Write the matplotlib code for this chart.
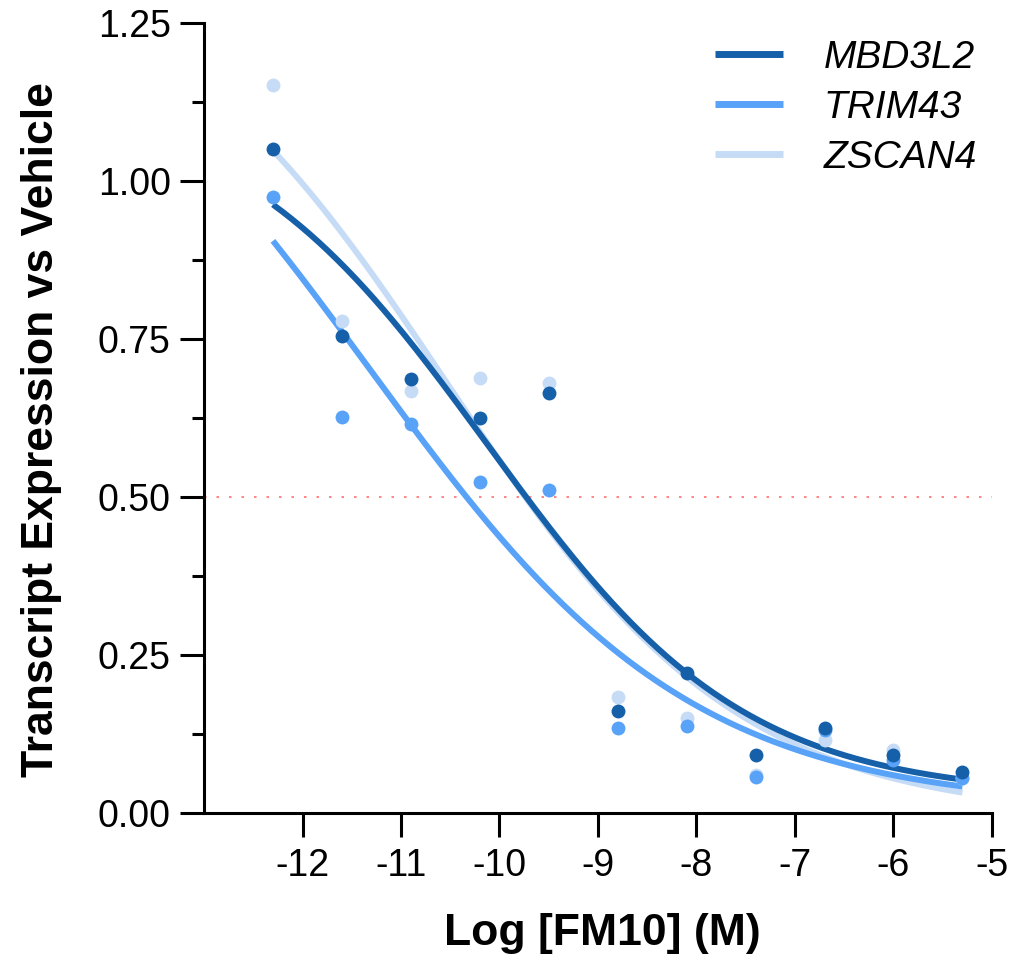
import numpy as np
import matplotlib
matplotlib.use("Agg")
import matplotlib.pyplot as plt
from matplotlib.ticker import MultipleLocator

plt.rcParams['font.family'] = ['Liberation Sans', 'DejaVu Sans']

# ---- data ----
log_conc = [-12.3, -11.6, -10.9, -10.2, -9.5, -8.8, -8.1, -7.4, -6.7, -6.0, -5.3]
mbd3l2 = [1.051, 0.755, 0.687, 0.625, 0.665, 0.161, 0.221, 0.091, 0.134, 0.092, 0.065]
trim43 = [0.975, 0.626, 0.616, 0.524, 0.511, 0.135, 0.138, 0.057, 0.132, 0.084, 0.055]
zscan4 = [1.152, 0.779, 0.668, 0.689, 0.680, 0.184, 0.151, 0.060, 0.116, 0.100, 0.055]
series_names = ['MBD3L2', 'TRIM43', 'ZSCAN4']
colors = ['#1560A8', '#58A2F8', '#C6DCF6']
x_ticks = [-12, -11, -10, -9, -8, -7, -6, -5]
y_ticks = [0.0, 0.25, 0.5, 0.75, 1.0, 1.25]
half_line = 0.5


def model(p, x):
    b, t, c, h = p
    return b + (t - b) / (1.0 + 10.0 ** ((x - c) * h))


def fit4pl(x, y):
    x = np.asarray(x, float)
    y = np.asarray(y, float)
    p = np.array([y.min(), y.max(), np.median(x), 0.5])
    lam = 1e-2
    sse = np.sum((y - model(p, x)) ** 2)
    for _ in range(2000):
        r = y - model(p, x)
        J = np.empty((len(x), 4))
        for k in range(4):
            d = np.zeros(4)
            d[k] = 1e-6 * max(1.0, abs(p[k]))
            J[:, k] = (model(p + d, x) - model(p - d, x)) / (2 * d[k])
        A = J.T @ J
        g = J.T @ r
        try:
            dp = np.linalg.solve(A + lam * np.diag(np.diag(A) + 1e-12), g)
        except np.linalg.LinAlgError:
            lam *= 10
            continue
        pn = p + dp
        ssen = np.sum((y - model(pn, x)) ** 2)
        if ssen < sse:
            p, sse = pn, ssen
            lam = max(lam * 0.3, 1e-9)
        else:
            lam *= 10
        if lam > 1e12:
            break
    return p


fig = plt.figure(figsize=(10.17, 9.6), dpi=100)
ax = fig.add_axes([204 / 1017, 1 - 813 / 960, 788 / 1017, 790 / 960])

all_series = [mbd3l2, trim43, zscan4]
xs = np.linspace(min(log_conc), max(log_conc), 300)
handles = []
# draw light first, dark on top
for i in [2, 1, 0]:
    p = fit4pl(log_conc, all_series[i])
    ln, = ax.plot(xs, model(p, xs), color=colors[i], lw=4.3, zorder=3 + (2 - i),
                  solid_capstyle='butt', label=series_names[i])
    ax.plot(log_conc, all_series[i], 'o', color=colors[i], ms=10, mec='none',
            zorder=6 + (2 - i))
    handles.append((i, ln))
handles = [h for _, h in sorted(handles)]

ax.axhline(half_line, color='#FF7070', lw=1.2, ls=(0, (1.5, 6)), zorder=1)

ax.set_xlim(-13, -5)
ax.set_ylim(0, 1.25)
ax.set_xticks(x_ticks)
ax.set_xticklabels([str(t) for t in x_ticks])
ax.set_yticks(y_ticks)
ax.set_yticklabels([f"{t:.2f}" for t in y_ticks])
ax.yaxis.set_minor_locator(MultipleLocator(0.125))
for s in ['top', 'right']:
    ax.spines[s].set_visible(False)
for s in ['left', 'bottom']:
    ax.spines[s].set_linewidth(2.2)
ax.tick_params(axis='both', which='major', length=17, width=2.2, labelsize=27,
               direction='out', color='black')
ax.tick_params(axis='x', pad=8)
ax.tick_params(axis='y', pad=7)
ax.tick_params(axis='y', which='minor', length=8.6, width=2.2)

fig.text(42 / 1017, 1 - 430 / 960, 'Transcript Expression vs Vehicle', rotation=90,
         ha='center', va='center', fontsize=32, fontweight='bold')
fig.text(602 / 1017, 1 - 934 / 960, 'Log [FM10] (M)', ha='center', va='center',
         fontsize=32, fontweight='bold')

leg = ax.legend(handles=handles, loc='upper left',
                bbox_to_anchor=(715 / 1017, 1 - 40 / 960),
                bbox_transform=fig.transFigure, frameon=False, borderpad=0,
                borderaxespad=0, handlelength=1.74, handletextpad=1.05,
                labelspacing=0.36, prop={'size': 28, 'style': 'italic'})
for lh in leg.get_lines():
    lh.set_linewidth(5)

fig.savefig('out.png', dpi=100)
